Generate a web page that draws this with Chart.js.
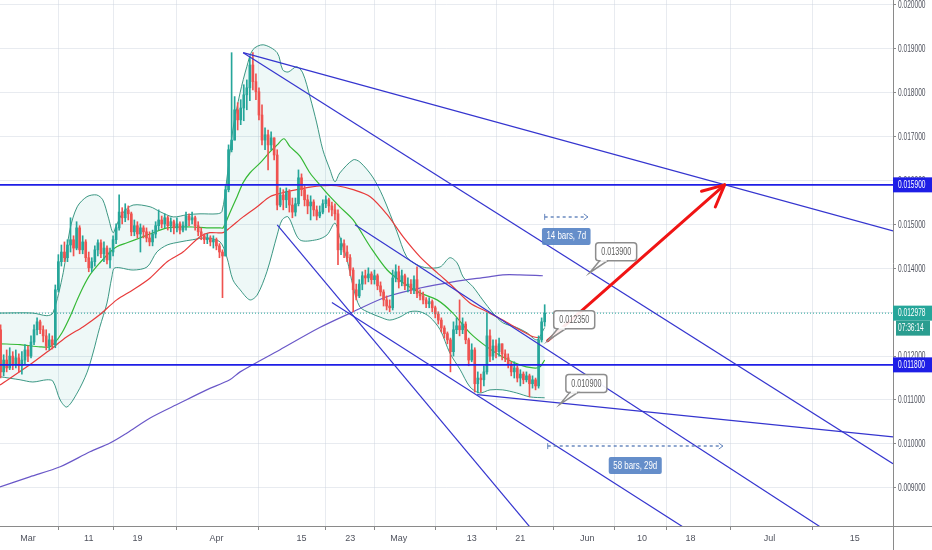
<!DOCTYPE html>
<html>
<head>
<meta charset="utf-8">
<script src="https://cdn.jsdelivr.net/npm/chart.js@4.4.1/dist/chart.umd.min.js"></script>
<style>
html, body { margin: 0; padding: 0; background: #fff; }
#wrap { width: 932px; height: 550px; position: relative; }
</style>
</head>
<body>
<div id="wrap"><canvas id="chart"></canvas></div>
<script>
// 12h candles; x is measured in days from 1 Mar
const firstBarDay = -4.5;
const barStep = 0.5;

const opens = [
  0.01260,0.01164,0.01191,0.01173,0.01200,0.01182,0.01196,0.01178,0.01191,0.01214,
  0.01200,0.01232,0.01260,0.01278,0.01260,0.01246,0.01223,0.01237,0.01226,0.01351,
  0.01415,0.01437,0.01424,0.01453,0.01465,0.01446,0.01492,0.01442,0.01460,0.01424,
  0.01401,0.01415,0.01442,0.01458,0.01433,0.01446,0.01419,0.01437,0.01465,0.01492,
  0.01528,0.01515,0.01533,0.01524,0.01483,0.01497,0.01478,0.01492,0.01483,0.01469,
  0.01460,0.01478,0.01497,0.01510,0.01501,0.01515,0.01497,0.01506,0.01492,0.01501,
  0.01487,0.01497,0.01519,0.01510,0.01515,0.01497,0.01483,0.01474,0.01465,0.01469,
  0.01460,0.01465,0.01451,0.01437,0.01428,0.01579,0.01670,0.01692,0.01761,0.01738,
  0.01765,0.01795,0.01811,0.01863,0.01825,0.01802,0.01749,0.01692,0.01704,0.01681,
  0.01697,0.01658,0.01544,0.01567,0.01556,0.01574,0.01544,0.01528,0.01547,0.01606,
  0.01579,0.01556,0.01542,0.01551,0.01533,0.01519,0.01528,0.01547,0.01556,0.01542,
  0.01533,0.01524,0.01442,0.01456,0.01437,0.01424,0.01396,0.01351,0.01337,0.01364,
  0.01383,0.01378,0.01387,0.01374,0.01383,0.01360,0.01346,0.01328,0.01314,0.01310,
  0.01378,0.01392,0.01369,0.01383,0.01360,0.01364,0.01351,0.01374,0.01342,0.01337,
  0.01328,0.01319,0.01324,0.01310,0.01296,0.01282,0.01264,0.01251,0.01237,0.01210,
  0.01260,0.01269,0.01260,0.01273,0.01237,0.01191,0.01214,0.01137,0.01150,0.01146,
  0.01164,0.01246,0.01200,0.01223,0.01210,0.01228,0.01205,0.01196,0.01182,0.01164,
  0.01173,0.01150,0.01159,0.01146,0.01155,0.01137,0.01146,0.01132,0.01237,0.01278
];
const highs = [
  0.01271,0.01203,0.01214,0.01219,0.01210,0.01214,0.01205,0.01210,0.01226,0.01223,
  0.01246,0.01271,0.01287,0.01282,0.01269,0.01260,0.01251,0.01246,0.01362,0.01431,
  0.01453,0.01460,0.01465,0.01515,0.01474,0.01506,0.01497,0.01474,0.01465,0.01437,
  0.01424,0.01451,0.01465,0.01465,0.01460,0.01451,0.01446,0.01474,0.01501,0.01567,
  0.01538,0.01547,0.01542,0.01528,0.01510,0.01506,0.01501,0.01497,0.01492,0.01483,
  0.01487,0.01506,0.01533,0.01519,0.01524,0.01519,0.01515,0.01510,0.01515,0.01506,
  0.01506,0.01528,0.01524,0.01528,0.01519,0.01506,0.01492,0.01478,0.01478,0.01474,
  0.01474,0.01469,0.01456,0.01442,0.01588,0.01681,0.01891,0.01791,0.01777,0.01784,
  0.01818,0.01829,0.01882,0.01891,0.01843,0.01811,0.01772,0.01720,0.01715,0.01711,
  0.01697,0.01670,0.01583,0.01579,0.01583,0.01579,0.01560,0.01560,0.01624,0.01615,
  0.01588,0.01567,0.01565,0.01556,0.01542,0.01542,0.01556,0.01565,0.01560,0.01551,
  0.01547,0.01533,0.01469,0.01465,0.01451,0.01431,0.01401,0.01364,0.01374,0.01392,
  0.01396,0.01401,0.01392,0.01396,0.01387,0.01369,0.01351,0.01337,0.01328,0.01396,
  0.01408,0.01405,0.01396,0.01387,0.01378,0.01374,0.01383,0.01403,0.01351,0.01346,
  0.01333,0.01333,0.01328,0.01314,0.01301,0.01287,0.01269,0.01255,0.01241,0.01278,
  0.01287,0.01328,0.01287,0.01278,0.01241,0.01228,0.01219,0.01164,0.01159,0.01178,
  0.01298,0.01260,0.01237,0.01237,0.01241,0.01228,0.01214,0.01205,0.01187,0.01187,
  0.01178,0.01169,0.01164,0.01164,0.01159,0.01155,0.01150,0.01246,0.01287,0.01317
];
const lows = [
  0.01150,0.01155,0.01164,0.01169,0.01169,0.01173,0.01164,0.01159,0.01182,0.01187,
  0.01196,0.01226,0.01248,0.01251,0.01232,0.01214,0.01214,0.01216,0.01219,0.01346,
  0.01405,0.01415,0.01415,0.01437,0.01428,0.01442,0.01433,0.01433,0.01415,0.01392,
  0.01392,0.01405,0.01428,0.01424,0.01415,0.01410,0.01401,0.01428,0.01456,0.01487,
  0.01501,0.01506,0.01510,0.01474,0.01474,0.01469,0.01437,0.01469,0.01460,0.01451,
  0.01451,0.01469,0.01487,0.01492,0.01492,0.01487,0.01483,0.01478,0.01483,0.01478,
  0.01483,0.01487,0.01497,0.01501,0.01487,0.01474,0.01465,0.01456,0.01456,0.01451,
  0.01446,0.01442,0.01424,0.01333,0.01428,0.01574,0.01665,0.01692,0.01715,0.01727,
  0.01736,0.01761,0.01782,0.01806,0.01784,0.01738,0.01681,0.01670,0.01624,0.01670,
  0.01647,0.01533,0.01540,0.01533,0.01538,0.01528,0.01515,0.01519,0.01542,0.01565,
  0.01542,0.01524,0.01510,0.01519,0.01510,0.01515,0.01524,0.01538,0.01528,0.01519,
  0.01510,0.01408,0.01431,0.01424,0.01415,0.01383,0.01301,0.01328,0.01333,0.01351,
  0.01364,0.01369,0.01364,0.01364,0.01351,0.01337,0.01314,0.01305,0.01301,0.01305,
  0.01369,0.01355,0.01360,0.01351,0.01346,0.01342,0.01342,0.01333,0.01328,0.01319,
  0.01310,0.01310,0.01301,0.01287,0.01273,0.01255,0.01241,0.01228,0.01164,0.01200,
  0.01251,0.01246,0.01251,0.01228,0.01178,0.01187,0.01118,0.01116,0.01118,0.01132,
  0.01159,0.01187,0.01191,0.01196,0.01200,0.01191,0.01187,0.01173,0.01155,0.01150,
  0.01141,0.01132,0.01137,0.01141,0.01107,0.01127,0.01123,0.01127,0.01232,0.01268
];
const closes = [
  0.01164,0.01191,0.01173,0.01200,0.01182,0.01196,0.01178,0.01191,0.01214,0.01200,
  0.01232,0.01260,0.01278,0.01260,0.01246,0.01223,0.01237,0.01226,0.01351,0.01415,
  0.01437,0.01424,0.01453,0.01465,0.01446,0.01492,0.01442,0.01460,0.01424,0.01401,
  0.01415,0.01442,0.01458,0.01433,0.01446,0.01419,0.01437,0.01465,0.01492,0.01528,
  0.01515,0.01533,0.01524,0.01483,0.01497,0.01478,0.01492,0.01483,0.01469,0.01460,
  0.01478,0.01497,0.01510,0.01501,0.01515,0.01497,0.01506,0.01492,0.01501,0.01487,
  0.01497,0.01519,0.01510,0.01515,0.01497,0.01483,0.01474,0.01465,0.01469,0.01460,
  0.01465,0.01451,0.01437,0.01428,0.01579,0.01670,0.01692,0.01761,0.01738,0.01765,
  0.01795,0.01811,0.01863,0.01825,0.01802,0.01749,0.01692,0.01704,0.01681,0.01697,
  0.01658,0.01544,0.01567,0.01556,0.01574,0.01544,0.01528,0.01547,0.01606,0.01579,
  0.01556,0.01542,0.01551,0.01533,0.01519,0.01528,0.01547,0.01556,0.01542,0.01533,
  0.01524,0.01442,0.01456,0.01437,0.01424,0.01396,0.01351,0.01337,0.01364,0.01383,
  0.01378,0.01387,0.01374,0.01383,0.01360,0.01346,0.01328,0.01314,0.01310,0.01378,
  0.01392,0.01369,0.01383,0.01360,0.01364,0.01351,0.01374,0.01342,0.01337,0.01328,
  0.01319,0.01324,0.01310,0.01296,0.01282,0.01264,0.01251,0.01237,0.01210,0.01260,
  0.01269,0.01260,0.01273,0.01237,0.01191,0.01214,0.01137,0.01150,0.01146,0.01164,
  0.01246,0.01200,0.01223,0.01210,0.01228,0.01205,0.01196,0.01182,0.01164,0.01173,
  0.01150,0.01159,0.01146,0.01155,0.01137,0.01146,0.01132,0.01237,0.01278,0.012978
];

// indicator lines as [day, price] samples
const bbUpperDays = [-4.6,0.8,3.1,4.1,5.8,6.9,8.1,9.7,11.3,12.3,13.2,14.0,14.6,15.6,17.3,20.1,21.7,23.9,26.2,28.3,31.1,31.9,32.7,33.7,34.9,36.0,37.0,38.7,41.0,41.9,42.8,44.2,45.2,46.4,47.5,48.5,49.7,50.5,51.3,53.5,54.6,56.7,58.4,60.7,62.3,64.0,65.6,67.8,69.4,70.6,71.6,73.2,74.8,76.5,78.1,80.4,82.1,83.7,85.0];
const bbUpper = [0.01298,0.01298,0.01292,0.01298,0.01390,0.01488,0.01540,0.01563,0.01567,0.01556,0.01517,0.01481,0.01499,0.01526,0.01544,0.01540,0.01529,0.01517,0.01522,0.01524,0.01524,0.01529,0.01601,0.01715,0.01800,0.01859,0.01898,0.01909,0.01891,0.01852,0.01847,0.01859,0.01845,0.01790,0.01731,0.01670,0.01624,0.01597,0.01617,0.01647,0.01642,0.01608,0.01563,0.01483,0.01426,0.01408,0.01401,0.01403,0.01424,0.01412,0.01380,0.01358,0.01328,0.01298,0.01276,0.01265,0.01253,0.01237,0.01265];
const bbLowerDays = [-4.6,-1.3,0.8,3.1,4.1,5.3,6.4,8.1,9.7,10.7,11.8,13.0,13.8,14.3,17.3,19.6,21.2,22.9,25.0,27.1,29.4,31.6,32.7,33.7,34.9,36.5,37.7,39.3,41.0,41.8,42.8,44.7,47.5,49.2,50.5,51.3,52.5,53.5,54.6,56.3,57.9,59.5,61.2,62.8,64.5,66.1,67.8,69.4,71.1,72.7,74.3,76.0,78.1,80.4,82.6,85.0];
const bbLower = [0.01153,0.01146,0.01141,0.01146,0.01143,0.01100,0.01084,0.01116,0.01162,0.01207,0.01265,0.01321,0.01380,0.01401,0.01396,0.01403,0.01437,0.01453,0.01460,0.01465,0.01469,0.01460,0.01426,0.01374,0.01351,0.01328,0.01339,0.01392,0.01476,0.01510,0.01517,0.01465,0.01465,0.01476,0.01503,0.01471,0.01419,0.01358,0.01312,0.01298,0.01289,0.01282,0.01289,0.01301,0.01301,0.01289,0.01260,0.01207,0.01169,0.01130,0.01116,0.01123,0.01123,0.01116,0.01107,0.01105];
const midBandDays = [-4.6,-1.3,2.0,3.6,4.4,5.6,6.9,8.1,9.1,10.2,11.8,13.5,14.6,16.3,18.4,20.6,22.9,25.0,27.1,29.4,31.6,32.1,33.2,34.4,35.4,36.5,38.2,39.8,41.0,42.1,43.1,44.7,46.4,48.0,49.7,51.3,53.5,56.3,59.1,61.7,64.5,67.3,69.9,72.7,75.5,78.1,80.9,83.1,84.2,85.0];
const midBand = [0.01228,0.01226,0.01221,0.01221,0.01230,0.01253,0.01289,0.01328,0.01358,0.01385,0.01412,0.01437,0.01449,0.01458,0.01469,0.01481,0.01492,0.01494,0.01494,0.01492,0.01492,0.01492,0.01526,0.01563,0.01595,0.01617,0.01640,0.01665,0.01681,0.01695,0.01677,0.01656,0.01617,0.01590,0.01563,0.01540,0.01510,0.01449,0.01396,0.01367,0.01344,0.01328,0.01298,0.01253,0.01221,0.01198,0.01180,0.01173,0.01175,0.01191];
const ma50Days = [-4.6,0.3,3.6,6.4,9.1,11.8,14.6,17.3,20.1,22.9,25.5,28.3,29.9,32.1,33.2,35.4,37.7,39.8,41.9,44.2,46.4,48.5,50.8,53.5,56.3,59.1,61.7,64.5,67.3,69.9,72.7,75.5,78.1,80.9,83.1,84.5];
const ma50 = [0.01134,0.01180,0.01214,0.01244,0.01267,0.01294,0.01328,0.01351,0.01378,0.01415,0.01437,0.01472,0.01481,0.01481,0.01492,0.01517,0.01540,0.01563,0.01572,0.01579,0.01585,0.01588,0.01588,0.01579,0.01563,0.01522,0.01472,0.01426,0.01390,0.01358,0.01321,0.01301,0.01282,0.01260,0.01244,0.01241];
const ma200Days = [-4.6,0.3,5.3,10.2,13.5,16.3,20.1,25.0,29.4,33.2,34.9,41.4,48.0,53.5,59.0,64.5,69.9,75.5,78.1,80.9,84.7];
const ma200 = [0.00902,0.00925,0.00948,0.00982,0.01002,0.01025,0.01059,0.01093,0.01123,0.01146,0.01164,0.01214,0.01265,0.01301,0.01335,0.01355,0.01369,0.01380,0.01385,0.01385,0.01383];

// drawings
const levelPrices = [0.0159, 0.0118];
const lastPrice = 0.012978;
const countdown = '07:36:14';
const trendFromDay   = [35.4, 35.4, 41.0, 53.8, 50.0, 73.9];
const trendFromPrice = [0.01891, 0.01891, 0.01499, 0.01499, 0.01322, 0.01112];
const trendToDay     = [142.3, 142.3, 84.0, 131.0, 110.0, 142.3];
const trendToPrice   = [0.01485, 0.00955, 0.00787, 0.00805, 0.00791, 0.01016];
const arrowFrom = [85.5, 0.01235];
const arrowTo = [114.6, 0.0159];
const calloutDays = [92.4, 85.5, 87.5];
const calloutPrices = [0.0139, 0.01235, 0.0109];
const calloutTexts = ['0.013900', '0.012350', '0.010900'];
const rangeFrom = [85.0, 85.5];
const rangeTo = [92.1, 114.3];
const rangePrice = [0.01517, 0.00995];
const rangeTexts = ['14 bars, 7d', '58 bars, 29d'];

// axes
const tickDays = [0, 10, 18, 31, 45, 53, 61, 73, 81, 92, 101, 109, 122, 136];
const tickLabels = ['Mar', '11', '19', 'Apr', '15', '23', 'May', '13', '21', 'Jun', '10', '18', 'Jul', '15'];
const priceTicks = [0.009, 0.010, 0.011, 0.012, 0.013, 0.014, 0.015, 0.016, 0.017, 0.018, 0.019, 0.020];

const FONT = "'Liberation Sans', Arial, sans-serif";
const upColor = '#26a69a';
const downColor = '#ef5350';
const trendColor = '#3535cf';
const levelColor = '#1e1ee6';

const pts = (days, vals) => days.map((d, i) => ({ x: d, y: vals[i] }));
const barDays = closes.map((c, i) => firstBarDay + i * barStep);
const candleColor = i => (closes[i] >= opens[i] ? upColor : downColor);
const xMin = -4.6, xMax = 142.3;

const datasets = [];
function lineSet(data, color, width, order, extra) {
  datasets.push(Object.assign({
    type: 'line', data: data, borderColor: color, borderWidth: width,
    pointRadius: 0, fill: false, tension: 0, order: order
  }, extra || {}));
}

// bollinger bands (upper fills to lower)
lineSet(pts(bbUpperDays, bbUpper), 'rgba(40,140,118,0.9)', 1, 20,
  { fill: { target: 1 }, backgroundColor: 'rgba(38,166,154,0.08)', tension: 0.3 });
lineSet(pts(bbLowerDays, bbLower), 'rgba(40,140,118,0.9)', 1, 20, { tension: 0.3 });
lineSet(pts(ma200Days, ma200), '#6a58c8', 1.2, 18, { tension: 0.3 });
lineSet(pts(ma50Days, ma50), '#e83b3b', 1.2, 17, { tension: 0.3 });
lineSet(pts(midBandDays, midBand), '#36b936', 1.2, 16, { tension: 0.3 });

// candles: wicks then bodies
datasets.push({
  type: 'bar', order: 12, grouped: false, barThickness: 1,
  data: barDays.map((d, i) => ({ x: d, y: [lows[i], highs[i]] })),
  backgroundColor: ctx => candleColor(ctx.dataIndex)
});
datasets.push({
  type: 'bar', order: 11, grouped: false, barThickness: 2, minBarLength: 1,
  data: barDays.map((d, i) => ({ x: d, y: [opens[i], closes[i]] })),
  backgroundColor: ctx => candleColor(ctx.dataIndex)
});

// last price dotted line and horizontal levels
lineSet([{ x: xMin, y: lastPrice }, { x: xMax, y: lastPrice }], upColor, 1, 8, { borderDash: [1, 2] });
levelPrices.forEach(p => lineSet([{ x: xMin, y: p }, { x: xMax, y: p }], levelColor, 1.6, 5));
trendFromDay.forEach((d, i) => lineSet(
  [{ x: d, y: trendFromPrice[i] }, { x: trendToDay[i], y: trendToPrice[i] }], trendColor, 1.2, 4));
lineSet([{ x: arrowFrom[0], y: arrowFrom[1] }, { x: arrowTo[0], y: arrowTo[1] }], '#f01414', 3, 1,
  { borderCapStyle: 'round' });

function roundRect(ctx, x, y, w, h, r) {
  ctx.beginPath();
  ctx.moveTo(x + r, y);
  ctx.arcTo(x + w, y, x + w, y + h, r);
  ctx.arcTo(x + w, y + h, x, y + h, r);
  ctx.arcTo(x, y + h, x, y, r);
  ctx.arcTo(x, y, x + w, y, r);
  ctx.closePath();
}

// squeezed text, the chart uses a narrow face
function narrowText(ctx, text, x, y, align, sx) {
  ctx.save();
  ctx.translate(x, y);
  ctx.scale(sx, 1);
  ctx.textAlign = align;
  ctx.fillText(text, 0, 0);
  ctx.restore();
}

const overlay = {
  id: 'overlay',
  afterDatasetsDraw(chart) {
    const ctx = chart.ctx, xs = chart.scales.x, ys = chart.scales.y;
    const area = chart.chartArea;
    ctx.save();
    ctx.beginPath();
    ctx.rect(area.left, area.top, area.right - area.left, area.bottom - area.top);
    ctx.clip();

    // arrow head
    const ax1 = xs.getPixelForValue(arrowFrom[0]), ay1 = ys.getPixelForValue(arrowFrom[1]);
    const ax2 = xs.getPixelForValue(arrowTo[0]), ay2 = ys.getPixelForValue(arrowTo[1]);
    const ang = Math.atan2(ay2 - ay1, ax2 - ax1);
    ctx.strokeStyle = '#f01414';
    ctx.lineWidth = 3;
    ctx.lineCap = 'round';
    ctx.beginPath();
    [0.45, -0.45].forEach(a => {
      ctx.moveTo(ax2, ay2);
      ctx.lineTo(ax2 - 24 * Math.cos(ang + a), ay2 - 24 * Math.sin(ang + a));
    });
    ctx.stroke();

    // date ranges
    ctx.font = '11px ' + FONT;
    ctx.textBaseline = 'middle';
    rangeFrom.forEach((d, i) => {
      const x1 = xs.getPixelForValue(d), x2 = xs.getPixelForValue(rangeTo[i]);
      const y = ys.getPixelForValue(rangePrice[i]);
      ctx.strokeStyle = 'rgba(90,125,185,0.9)';
      ctx.lineWidth = 1.5;
      ctx.lineCap = 'butt';
      ctx.setLineDash([3, 3]);
      ctx.beginPath(); ctx.moveTo(x1, y); ctx.lineTo(x2, y); ctx.stroke();
      ctx.setLineDash([]);
      ctx.lineWidth = 1;
      ctx.beginPath();
      ctx.moveTo(x1, y - 3); ctx.lineTo(x1, y + 3);
      ctx.moveTo(x2 - 4, y - 3); ctx.lineTo(x2, y); ctx.lineTo(x2 - 4, y + 3);
      ctx.stroke();
      const w = ctx.measureText(rangeTexts[i]).width * 0.72 + 9;
      const cx = (x1 + x2) / 2;
      ctx.fillStyle = 'rgba(88,132,198,0.92)';
      roundRect(ctx, cx - w / 2, y + 11, w, 17, 2);
      ctx.fill();
      ctx.fillStyle = '#fff';
      narrowText(ctx, rangeTexts[i], cx, y + 19.5, 'center', 0.72);
    });

    // price callouts
    ctx.font = '10px ' + FONT;
    calloutDays.forEach((d, i) => {
      const tx = xs.getPixelForValue(d), ty = ys.getPixelForValue(calloutPrices[i]);
      const bx = tx + 6, by = ty - 30, bw = 41, bh = 18;
      ctx.fillStyle = 'rgba(255,255,255,0.92)';
      ctx.strokeStyle = '#8d8d8d';
      ctx.lineWidth = 1.5;
      roundRect(ctx, bx, by, bw, bh, 3);
      ctx.fill(); ctx.stroke();
      ctx.beginPath();
      ctx.moveTo(bx + 4, by + bh);
      ctx.lineTo(tx, ty);
      ctx.lineTo(bx + 12, by + bh);
      ctx.closePath();
      ctx.fill(); ctx.stroke();
      ctx.fillRect(bx + 5, by + bh - 2, 6, 3);
      ctx.fillStyle = '#5c5c5c';
      narrowText(ctx, calloutTexts[i], bx + bw / 2, by + bh / 2 + 0.5, 'center', 0.72);
    });
    ctx.restore();
  },
  afterDraw(chart) {
    const ctx = chart.ctx, ys = chart.scales.y, area = chart.chartArea;
    const W = chart.width, H = chart.height;
    ctx.save();
    ctx.strokeStyle = '#8a8a8a';
    ctx.lineWidth = 1;
    ctx.beginPath();
    ctx.moveTo(area.right + 0.5, area.bottom); ctx.lineTo(area.right + 0.5, H);
    ctx.moveTo(area.right, area.bottom + 0.5); ctx.lineTo(W, area.bottom + 0.5);
    ctx.stroke();

    ctx.font = '10px ' + FONT;
    ctx.textBaseline = 'middle';
    // price scale labels
    ctx.fillStyle = '#50535e';
    priceTicks.forEach(v => narrowText(ctx, v.toFixed(6), area.right + 5, ys.getPixelForValue(v) + 0.5, 'left', 0.66));

    const badge = (p, bg, text, dx, dy) => {
      const y = ys.getPixelForValue(p) + dy;
      ctx.fillStyle = bg;
      ctx.fillRect(area.right + dx, y - 7.5, W - area.right - dx - (dx ? 2 : 0), 15);
      ctx.fillStyle = '#fff';
      narrowText(ctx, text, area.right + 5, y + 0.5, 'left', 0.66);
    };
    levelPrices.forEach(p => badge(p, levelColor, p.toFixed(6), 0, 0));
    badge(lastPrice, upColor, lastPrice.toFixed(6), 0, 0);
    badge(lastPrice, '#2a9d8f', countdown, 3, 15);
    ctx.restore();
  }
};

new Chart(document.getElementById('chart'), {
  type: 'line',
  data: { datasets: datasets },
  plugins: [overlay],
  options: {
    responsive: true,
    maintainAspectRatio: false,
    animation: false,
    layout: { padding: 0 },
    plugins: { legend: { display: false }, tooltip: { enabled: false } },
    scales: {
      x: {
        type: 'linear', min: xMin, max: xMax, offset: false,
        afterBuildTicks: s => { s.ticks = tickDays.map(v => ({ value: v })); },
        afterFit: s => { s.height = 24; s.paddingLeft = 0; s.paddingRight = 0; },
        ticks: {
          autoSkip: false, maxRotation: 0, padding: 3, color: '#50535e',
          font: { size: 9, family: FONT },
          callback: v => { const k = tickDays.indexOf(v); return k >= 0 ? tickLabels[k] : ''; }
        },
        grid: { color: 'rgba(205,210,222,0.45)', tickLength: 4, tickColor: '#8a8a8a' },
        border: { color: '#8a8a8a' }
      },
      y: {
        type: 'linear', position: 'right', min: 0.00813, max: 0.02011,
        afterBuildTicks: s => { s.ticks = priceTicks.map(v => ({ value: v })); },
        afterFit: s => { s.width = 39; s.paddingTop = 0; s.paddingBottom = 0; },
        ticks: { display: false },
        grid: { color: 'rgba(205,210,222,0.45)', tickLength: 3, tickColor: '#8a8a8a' },
        border: { color: '#8a8a8a' }
      }
    }
  }
});
</script>
</body>
</html>
